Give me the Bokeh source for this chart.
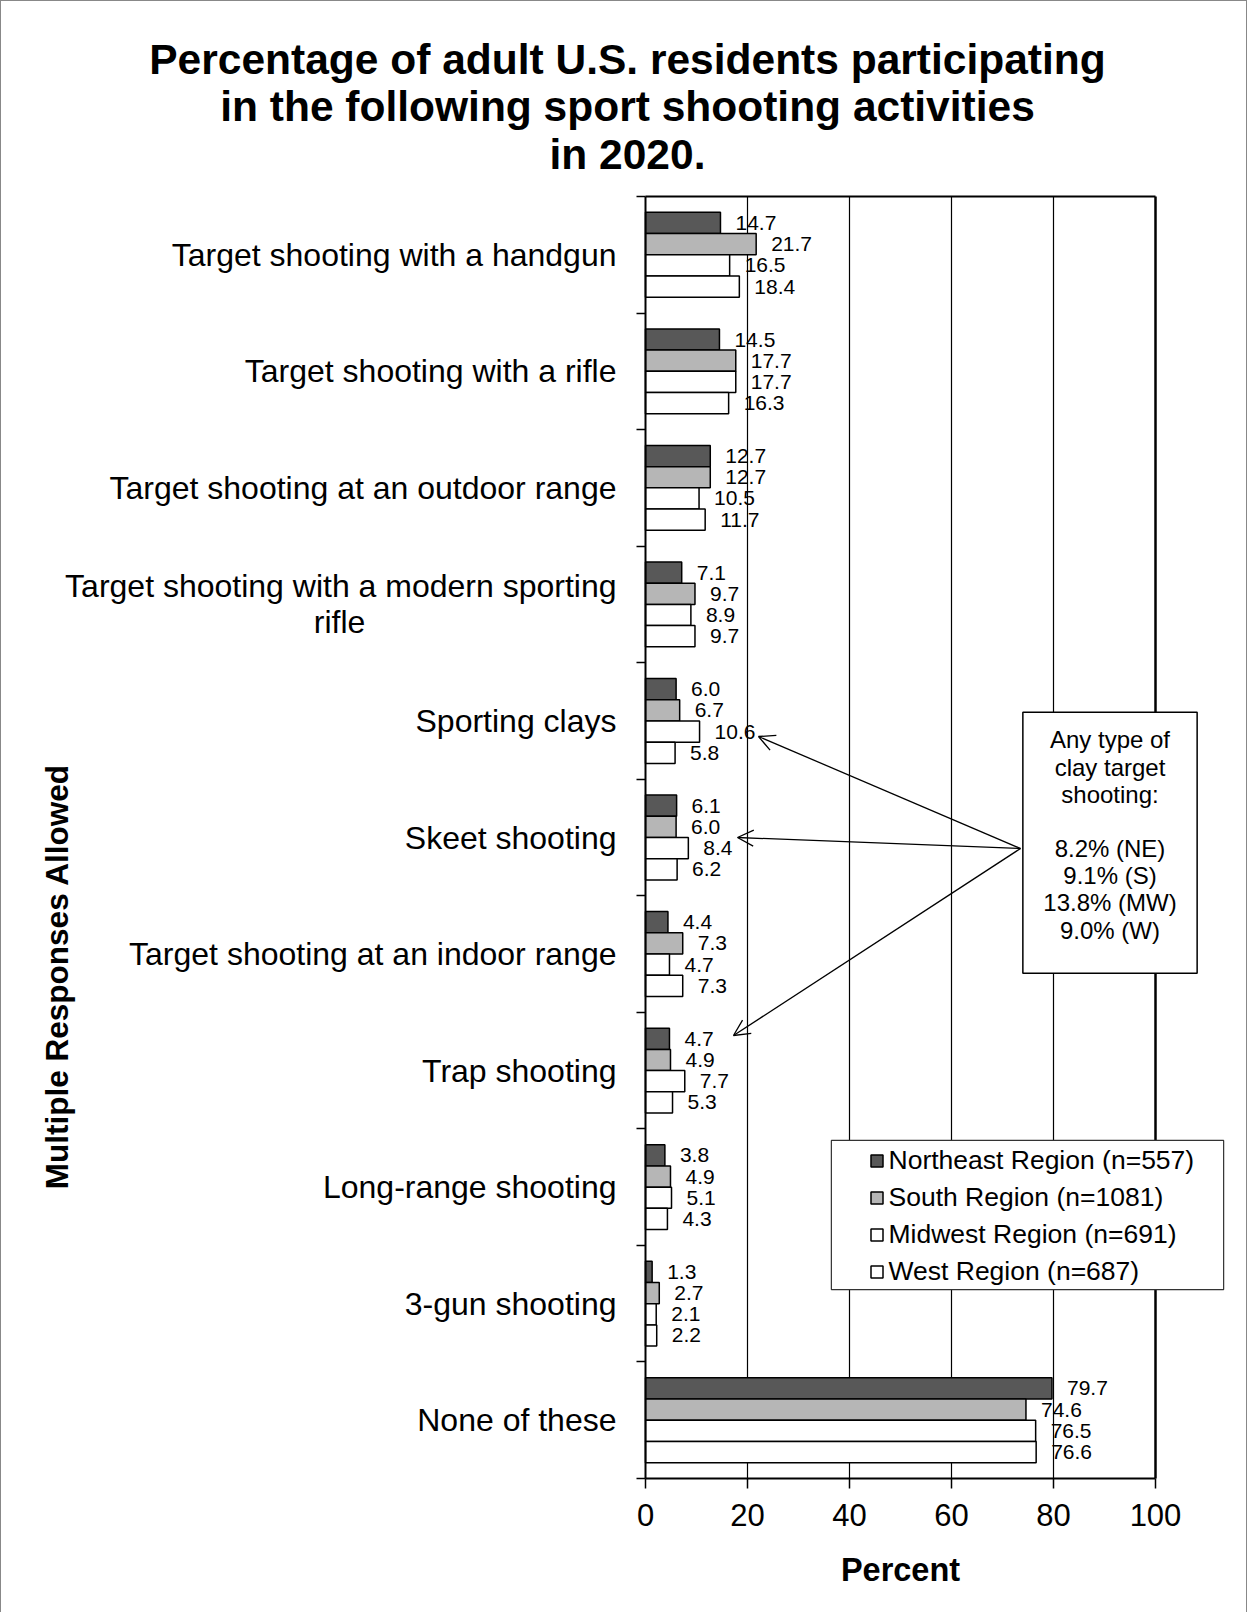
import math
from bokeh.plotting import figure
from bokeh.models import (Range1d, FixedTicker, ColumnDataSource, LabelSet, Label,
                          Arrow, OpenHead, Legend, LegendItem, CustomJSTickFormatter)
from bokeh.core.properties import value
from bokeh.embed import file_html
from bokeh.resources import INLINE

# ---------------- data ----------------
categories = [
    "Target shooting with a handgun",
    "Target shooting with a rifle",
    "Target shooting at an outdoor range",
    "Target shooting with a modern sporting\nrifle",
    "Sporting clays",
    "Skeet shooting",
    "Target shooting at an indoor range",
    "Trap shooting",
    "Long-range shooting",
    "3-gun shooting",
    "None of these",
]
regions = [
    "Northeast Region (n=557)",
    "South Region (n=1081)",
    "Midwest Region (n=691)",
    "West Region (n=687)",
]
northeast = [14.7, 14.5, 12.7, 7.1, 6.0, 6.1, 4.4, 4.7, 3.8, 1.3, 79.7]
south     = [21.7, 17.7, 12.7, 9.7, 6.7, 6.0, 7.3, 4.9, 4.9, 2.7, 74.6]
midwest   = [16.5, 17.7, 10.5, 8.9, 10.6, 8.4, 4.7, 7.7, 5.1, 2.1, 76.5]
west      = [18.4, 16.3, 11.7, 9.7, 5.8, 6.2, 7.3, 5.3, 4.3, 2.2, 76.6]
x_ticks = [0, 20, 40, 60, 80, 100]
title_lines = [
    "Percentage of adult U.S. residents participating",
    "in the following sport shooting activities",
    "in 2020.",
]
callout_lines = ["Any type of", "clay target", "shooting:", "",
                 "8.2% (NE)", "9.1% (S)", "13.8% (MW)", "9.0% (W)"]
x_title = "Percent"
y_title = "Multiple Responses Allowed"

series = [northeast, south, midwest, west]
fills = ["#585858", "#b6b6b6", "#ffffff", "#ffffff"]
FONT = "Liberation Sans"
n = len(categories)

# ---------------- layout (page pixels -> data) ----------------
W_FIG, H_FIG = 1247, 1612
OFFX, OFFY = 1, 1                # page position of the canvas origin (1px css border)
PX_L, PX_R = 645, 1155           # page x of the first / last x tick
PY_T, PY_B = 196, 1478           # page y of the top / bottom of the category band
SX = (PX_R - PX_L) / (x_ticks[-1] - x_ticks[0])
SY = (PY_B - PY_T) / n


def dx(px):
    return x_ticks[0] + (px - PX_L) / SX


def dy(py):
    return (py - PY_T) / SY


p = figure(width=W_FIG, height=H_FIG,
           x_range=Range1d(dx(OFFX), dx(OFFX + W_FIG)),
           y_range=Range1d(dy(OFFY + H_FIG), dy(OFFY)),
           output_backend="svg", toolbar_location=None, min_border=0,
           styles={"border-left": "1px solid #888", "border-top": "1px solid #888",
                   "border-right": "1px solid #888"})
p.background_fill_color = "white"
p.border_fill_color = "white"
p.outline_line_color = None
p.xgrid.visible = False
p.ygrid.visible = False

# x axis, drawn at the bottom of the category band
xa = p.xaxis[0]
xa.fixed_location = n
xa.bounds = (x_ticks[0], x_ticks[-1])
xa.ticker = FixedTicker(ticks=x_ticks)
xa.minor_tick_line_color = None
xa.major_tick_in = 0
xa.major_tick_out = 10
xa.axis_line_width = 2
xa.major_tick_line_width = 1.5
xa.major_label_text_font = FONT
xa.major_label_text_font_size = "31px"
xa.major_label_text_color = "black"
xa.major_label_standoff = 15
xa.axis_label = x_title
xa.axis_label_text_font = FONT
xa.axis_label_text_font_size = "32.5px"
xa.axis_label_text_font_style = "bold"
xa.axis_label_text_color = "black"
xa.axis_label_standoff = 23

# y axis: category boundaries, drawn at x = 0
ya = p.yaxis[0]
ya.fixed_location = x_ticks[0]
ya.bounds = (0, n)
ya.ticker = FixedTicker(ticks=list(range(n + 1)))
ya.formatter = CustomJSTickFormatter(code="return ''")
ya.minor_tick_line_color = None
ya.major_tick_in = 0
ya.major_tick_out = 9
ya.axis_line_width = 2
ya.major_tick_line_width = 1.5

# vertical grid lines and the top / right edges of the plot box
inner = x_ticks[1:-1]
p.segment(x0=inner, y0=[0] * len(inner), x1=inner, y1=[n] * len(inner),
          line_color="black", line_width=1.2)
p.segment(x0=[x_ticks[0]], y0=[0], x1=[x_ticks[-1]], y1=[0], line_color="black", line_width=2)
p.segment(x0=[x_ticks[-1]], y0=[0], x1=[x_ticks[-1]], y1=[n], line_color="black", line_width=2.5)

# bars + value labels
bar_h = 0.182
renderers = []
for j, (vals, fill) in enumerate(zip(series, fills)):
    ys = [k + 0.5 + (j - 1.5) * bar_h for k in range(n)]
    src = ColumnDataSource(dict(y=ys, right=vals, lbl=[f"{v:.1f}" for v in vals]))
    r = p.hbar(y="y", left=0, right="right", height=bar_h, source=src,
               fill_color=fill, line_color="black", line_width=1.5)
    renderers.append(r)
    p.add_layout(LabelSet(x="right", y="y", text="lbl", source=src, x_offset=15,
                          text_align="left", text_baseline="middle",
                          text_font=value(FONT), text_font_size="21px", text_color="black"))

# category labels
CAT_FS = "32px"
for k, cat in enumerate(categories):
    if "\n" in cat:
        l1, l2 = cat.split("\n")
        p.add_layout(Label(x=0, y=k + 0.5 - 0.155, x_offset=-29, text=l1, text_align="right",
                           text_baseline="middle", text_font=FONT, text_font_size=CAT_FS,
                           text_color="black"))
        p.add_layout(Label(x=0, y=k + 0.5 + 0.155, x_offset=-306, text=l2, text_align="center",
                           text_baseline="middle", text_font=FONT, text_font_size=CAT_FS,
                           text_color="black"))
    else:
        p.add_layout(Label(x=0, y=k + 0.5, x_offset=-29, text=cat, text_align="right",
                           text_baseline="middle", text_font=FONT, text_font_size=CAT_FS,
                           text_color="black"))

# title
p.add_layout(Label(x=dx(627), y=dy(106.5), text="\n".join(title_lines), text_align="center",
                   text_baseline="middle", text_font=FONT, text_font_size="42.5px",
                   text_font_style="bold", text_color="black", text_line_height=1.015))

# y axis title
p.add_layout(Label(x=dx(56), y=dy(976), text=y_title, angle=math.pi / 2, text_align="center",
                   text_baseline="middle", text_font=FONT, text_font_size="31.5px",
                   text_font_style="bold", text_color="black"))

# callout arrows
start = (dx(1020), dy(848))
for ex, ey in [(758, 736), (737, 837), (733, 1035)]:
    p.add_layout(Arrow(x_start=start[0], y_start=start[1], x_end=dx(ex), y_end=dy(ey),
                       line_color="black", line_width=1.3,
                       end=OpenHead(size=16, line_color="black", line_width=1.3)))

# callout box + text
p.add_layout(Label(x=dx(1109.5), y=dy(842.25), text=" ", text_font_size="1px",
                   text_align="center", text_baseline="middle",
                   padding=dict(left=87, right=87, top=130, bottom=130),
                   background_fill_color="white", border_line_color="black", border_line_width=1.5))
p.add_layout(Label(x=dx(1109.5), y=dy(834.5), text="\n".join(callout_lines),
                   text_align="center", text_baseline="middle", text_font=FONT,
                   text_font_size="24px", text_color="black", text_line_height=1.007))

# legend box
p.add_layout(Label(x=dx(1027), y=dy(1214.5), text=" ", text_font_size="1px",
                   text_align="center", text_baseline="middle",
                   padding=dict(left=196, right=196, top=74, bottom=74),
                   background_fill_color="white", border_line_color="#333333", border_line_width=1.2))

LEG_LEFT, LEG_BOTTOM = 863.5, 1291.5   # page pixels
legend = Legend(items=[LegendItem(label=name, renderers=[r]) for name, r in zip(regions, renderers)],
                location=(LEG_LEFT - OFFX, (OFFY + H_FIG) - LEG_BOTTOM),
                padding=5, spacing=6, margin=0,
                label_height=30, glyph_height=15, glyph_width=15, label_standoff=5,
                label_text_font=FONT, label_text_font_size="26.5px", label_text_color="black",
                border_line_alpha=0, background_fill_alpha=0)
p.add_layout(legend)

open("out.html", "w").write(file_html(p, INLINE))
